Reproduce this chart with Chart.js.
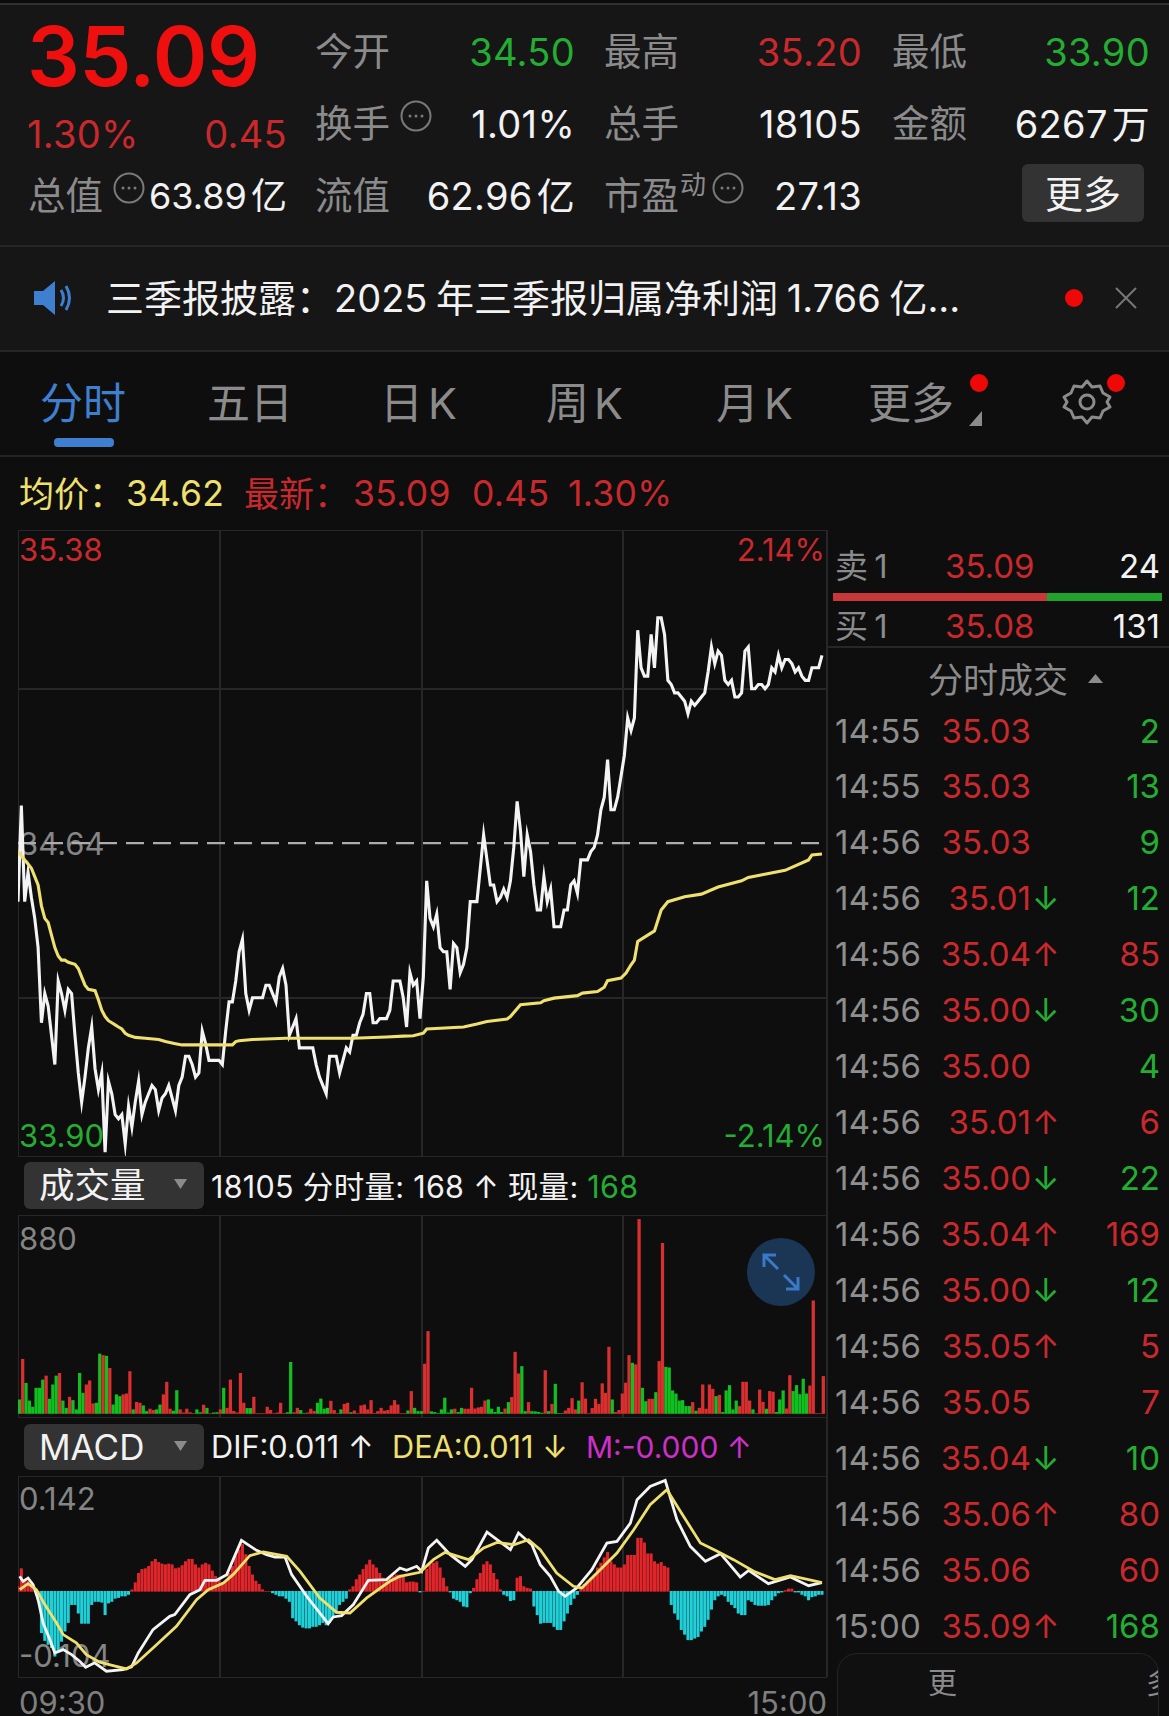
<!DOCTYPE html>
<html lang="zh"><head><meta charset="utf-8">
<script src="https://cdn.jsdelivr.net/npm/chart.js@4/dist/chart.umd.min.js"></script>
<style>
html,body{margin:0;padding:0;background:#0e0e0f;overflow:hidden}
#app{position:relative;width:1169px;height:1716px;background:#0e0e0f;font-family:Inter,"Noto Sans CJK SC",sans-serif;overflow:hidden}
.t{position:absolute;white-space:pre;line-height:1;transform:translateY(-50%)}
.b{position:absolute;box-sizing:border-box}
canvas{position:absolute;display:block}
svg{position:absolute;overflow:visible}
</style></head><body><div id="app"></div>
<script>
// ---------- data ----------
const priceValues=[34.50,34.73,34.50,34.57,34.51,34.46,34.39,34.21,34.28,34.25,
34.18,34.11,34.31,34.28,34.24,34.29,34.28,34.18,34.09,34.02,
34.08,34.15,34.20,34.10,34.05,34.09,33.90,34.07,34.04,33.99,
33.98,33.99,33.92,34.01,33.96,34.02,34.07,33.99,34.02,34.04,
34.06,34.05,34.00,34.03,34.04,34.06,34.03,34.00,34.06,34.08,
34.13,34.13,34.11,34.08,34.09,34.19,34.16,34.12,34.12,34.12,
34.12,34.11,34.19,34.26,34.26,34.31,34.38,34.41,34.28,34.24,
34.27,34.27,34.27,34.27,34.30,34.30,34.28,34.26,34.32,34.34,
34.30,34.18,34.20,34.22,34.15,34.15,34.15,34.15,34.15,34.11,
34.08,34.06,34.04,34.13,34.13,34.13,34.09,34.12,34.15,34.14,
34.18,34.18,34.21,34.23,34.28,34.28,34.21,34.21,34.22,34.22,
34.22,34.24,34.31,34.31,34.31,34.27,34.20,34.33,34.30,34.31,
34.22,34.32,34.55,34.46,34.44,34.47,34.39,34.38,34.38,34.29,
34.40,34.39,34.33,34.35,34.39,34.50,34.50,34.50,34.58,34.66,
34.60,34.54,34.54,34.50,34.51,34.53,34.51,34.55,34.63,34.74,
34.67,34.56,34.66,34.62,34.54,34.48,34.48,34.56,34.50,34.53,
34.44,34.44,34.44,34.48,34.48,34.54,34.55,34.52,34.60,34.60,
34.60,34.62,34.63,34.66,34.72,34.75,34.84,34.72,34.72,34.75,
34.80,34.85,34.94,34.91,34.94,35.15,35.06,35.04,35.04,35.14,
35.06,35.18,35.18,35.14,35.03,35.02,35.00,35.00,34.99,34.98,
34.95,34.98,34.97,34.98,34.99,35.00,35.05,35.11,35.07,35.10,
35.09,35.03,35.02,35.03,34.99,34.99,35.00,35.10,35.11,35.01,
35.01,35.02,35.02,35.01,35.02,35.06,35.05,35.09,35.06,35.08,
35.08,35.07,35.05,35.06,35.04,35.03,35.03,35.06,35.06,35.06,35.09];
const avgMinutes=[0,2,3,4,5,6,7,8,9,10,11,12,13,14,15,17,18,19,20,21,23,24,25,26,27,28,29,30,31,32,33,35,38,42,44,47,49,60,64,65,66,70,80,90,100,110,115,118,121,122,133,137,140,146,147,150,156,157,160,167,168.5,173,175,176,180,181.5,183,184,185,190,192,194,199,204,209,216,218,229,236,237,240];
const avgValues=[34.62,34.60,34.59,34.58,34.56,34.54,34.49,34.46,34.45,34.42,34.39,34.37,34.36,34.36,34.355,34.35,34.34,34.32,34.30,34.29,34.287,34.265,34.24,34.225,34.215,34.21,34.205,34.20,34.195,34.185,34.18,34.175,34.173,34.17,34.165,34.16,34.157,34.157,34.157,34.165,34.167,34.17,34.173,34.173,34.173,34.176,34.178,34.179,34.185,34.195,34.20,34.207,34.213,34.219,34.225,34.253,34.258,34.263,34.269,34.275,34.281,34.285,34.295,34.311,34.317,34.329,34.349,34.36,34.405,34.43,34.48,34.50,34.512,34.518,34.535,34.55,34.558,34.575,34.60,34.612,34.614];
const prevClose=34.64;
const priceGridLevels=[34.27,34.64,35.01];
const timeGridMinutes=[60.25,120.5,180.6];
const volumeValues=[62,246,137,57,29,115,115,152,170,65,130,170,182,57,24,74,59,17,182,92,
130,148,44,47,270,263,260,205,39,85,77,85,89,190,17,51,47,35,9,20,
14,17,39,85,142,20,11,104,17,3,20,4,0,17,4,38,24,0,3,4,
17,115,24,152,10,3,182,47,23,23,74,0,0,0,29,14,0,3,47,0,
4,232,4,24,14,0,3,20,10,47,66,20,24,56,14,0,17,42,47,4,
12,0,35,39,17,59,0,9,24,11,14,35,59,39,0,0,12,100,24,9,
9,224,372,8,5,0,17,70,3,17,20,5,24,20,20,115,21,26,29,57,
62,20,5,29,5,21,50,73,278,180,213,9,50,9,8,5,2,195,9,42,
133,0,0,12,24,68,17,57,140,66,0,23,65,41,135,92,301,62,5,14,
89,138,263,228,221,880,115,54,65,65,95,236,772,210,207,103,89,57,59,32,
32,50,11,24,130,20,130,110,77,83,5,103,127,17,57,32,142,142,57,17,
0,107,51,20,100,97,5,62,103,21,172,100,127,86,156,89,125,511,0,0,168];
const volumeSides=("grggggggrg"+"ggrggrgggg"+"rrrggrgrgg"+"grrrgrrggr"+"rggrrrggrr"+"rrrggrgrgg"+"rgrrrrrrgg"+"rrrrrrrrrr"+"ggrrggrrrg"+"gggrrrgrrg"+"rrrrrrrrrr"+"rrrrrrgrgg"+"grrggggggg"+"rggrrrrrrr"+"gggggrgrrr"+"ggrggggrgr"+"gggrrrrgrr"+"rrrrrrrgrr"+"rrrgrrggrr"+"grrggggggg"+"grgrrrrrgr"+"gggggrrrrg"+"rrrgrrgggr"+"rgggggrrrr"+"r").split("");
const difMinutes=[0.5,1.5,3,4.5,6,7.5,9.5,11,13.5,16,18.4,20.2,22.9,26.4,31.4,33.9,35.9,40.3,45.3,46.8,51.3,54.3,55.8,59.3,62.3,66.7,71.2,74.2,76.7,79.7,81.7,86.2,92.6,94.1,96.6,100.1,104.6,110,114,116,119,120.5,122.5,125,129,133.5,135.5,140,143,147,149.4,153.4,155.9,158.9,161.4,163.3,166.8,171.3,175.8,178.8,182.8,184.8,188.7,193.2,196.7,200.7,205.2,209.7,215.6,218.1,224,230.6,236,240];
const difValues=[.0192,.0128,.017,.0085,-.0106,-.0405,-.0618,-.0788,-.0746,-.081,-.0895,-.0971,-.0915,-.1022,-.1001,-.0967,-.0788,-.049,-.032,-.0298,-.0043,.0021,.0141,.0141,.0213,.0652,.0524,.0469,.0439,.0439,.0213,-.0064,-.0413,-.0328,-.0311,-.017,.0141,.0149,.0298,.0268,.032,.0256,.0554,.0652,.0469,.032,.0405,.0758,.066,.0533,.0746,.0596,.0341,.0192,0,-.0064,.0043,.0277,.0618,.0639,.0873,.1172,.1342,.1419,.0916,.0575,.0383,.0481,.0183,.0268,.0098,.0183,.0072,.011];
const deaMinutes=[0.5,3,5.5,8,11.5,13.5,17.4,20.4,24.4,28.4,32.4,35.4,40.3,47.3,53.3,56.8,61.3,64.2,69.2,73.2,80.2,84.2,90.1,95.1,99.1,104.1,111,114,120,124,127.5,134.5,139,143,148,152.4,155.9,160.8,165.8,168.3,173.8,178.8,183.8,188.7,193.7,198.7,203.7,208.7,213.6,219.6,226,230.6,236,240];
const deaValues=[.0021,.0098,.0021,-.017,-.0405,-.0554,-.066,-.081,-.0907,-.095,-.0993,-.0916,-.0724,-.0447,-.0107,.0021,.0107,.0213,.0456,.0503,.0447,.0256,-.0085,-.0268,-.0277,-.0085,.0128,.0192,.0243,.0405,.0498,.0405,.0554,.0626,.0596,.066,.0533,.0234,.0064,.0043,.0277,.049,.0788,.1108,.1299,.0958,.0618,.0511,.0405,.0256,.0149,.02,.0149,.011];
const macdValues=[.006,.029,.015,.013,.009,0,-.011,-.053,-.063,-.068,-.072,-.083,-.075,-.064,-.051,-.040,-.017,-.017,-.028,-.041,
-.041,-.041,-.017,-.013,-.013,-.014,-.030,-.015,-.013,-.009,-.008,-.006,-.006,-.004,.002,.011,.023,.028,.029,.032,
.038,.041,.037,.035,.034,.035,.034,.029,.030,.033,.038,.041,.041,.034,.030,.034,.036,.034,.026,.019,
.015,.011,.013,.023,.032,.045,.053,.060,.047,.032,.021,.013,.009,.002,0,0,-.002,-.004,-.006,-.006,
-.009,-.013,-.034,-.038,-.043,-.046,-.047,-.047,-.045,-.045,-.043,-.040,-.043,-.040,-.034,-.028,-.017,-.013,-.009,.002,
.006,.015,.021,.028,.034,.040,.034,.030,.023,.017,.015,.017,.019,.021,.021,.019,.011,.012,.012,.011,
-.001,0,.028,.034,.036,.038,.030,.017,.006,-.001,-.009,-.011,-.013,-.019,-.020,-.002,.004,.015,.023,.034,
.038,.034,.023,.015,.002,-.004,-.006,-.012,-.011,.017,.019,.006,.004,.003,-.019,-.030,-.041,-.040,-.040,-.040,
-.045,-.049,-.049,-.038,-.028,-.017,-.009,-.004,.004,.009,.013,.017,.021,.030,.036,.043,.050,.038,.034,.030,
.030,.034,.046,.046,.046,.068,.068,.062,.048,.048,.038,.035,.037,.032,.030,-.017,-.028,-.036,-.049,-.055,
-.062,-.062,-.060,-.058,-.051,-.045,-.036,-.023,-.011,-.006,-.004,-.006,-.013,-.017,-.021,-.028,-.030,-.030,-.011,-.013,
-.017,-.018,-.018,-.018,-.017,-.011,-.006,-.002,-.001,.001,.003,.003,-.001,-.001,-.004,-.006,-.011,-.007,-.006,-.004,-.004];
const tradeTimes=["14:55","14:55","14:56","14:56","14:56","14:56","14:56","14:56","14:56","14:56","14:56","14:56","14:56","14:56","14:56","14:56","15:00"];
const tradePrices=["35.03","35.03","35.03","35.01","35.04","35.00","35.00","35.01","35.00","35.04","35.00","35.05","35.05","35.04","35.06","35.06","35.09"];
const tradeMoves=["","","","↓","↑","↓","","↑","↓","↑","↓","↑","","↓","↑","","↑"];
const tradeQty=["2","13","9","12","85","30","4","6","22","169","12","5","7","10","80","60","168"];
const tradeSide=["g","g","g","g","r","g","g","r","g","r","g","r","r","g","r","r","g"];

// ---------- page helpers ----------
const app=document.getElementById("app");
const RED="#c9292c",BRIGHT="#ee0f0f",GREEN="#24ad33",GREY="#8b8b8b",WHITE="#f2f2f2",YEL="#efe070",BLUE="#3f7fd0";
function t(s,x,cy,size,color,align,extra){
  const d=document.createElement("div");d.className="t";d.textContent=s;
  d.style.top=cy+"px";d.style.fontSize=size+"px";d.style.color=color;
  if(align==="r"){d.style.right=(1169-x)+"px"}else if(align==="c"){d.style.left=x+"px";d.style.transform="translate(-50%,-50%)"}else{d.style.left=x+"px"}
  if(extra)Object.assign(d.style,extra);app.appendChild(d);return d;
}
function box(x,y,w,h,css){const d=document.createElement("div");d.className="b";
  Object.assign(d.style,{left:x+"px",top:y+"px",width:w+"px",height:h+"px"},css);app.appendChild(d);return d;}
function svg(x,y,w,h,inner){const d=document.createElement("div");d.style.position="absolute";d.style.left=x+"px";d.style.top=y+"px";
  d.innerHTML=`<svg width="${w}" height="${h}" viewBox="0 0 ${w} ${h}" style="left:0;top:0">${inner}</svg>`;app.appendChild(d);}
function more(cx,cy){svg(cx-16,cy-16,32,32,`<circle cx="16" cy="16" r="14.5" fill="none" stroke="#7a7a7a" stroke-width="2"/><circle cx="10" cy="16" r="1.5" fill="#7a7a7a"/><circle cx="16" cy="16" r="1.5" fill="#7a7a7a"/><circle cx="22" cy="16" r="1.5" fill="#7a7a7a"/>`);}
function dot(cx,cy,r,c){box(cx-r,cy-r,r*2,r*2,{background:c||"#ee0808",borderRadius:"50%"});}
function tri(cx,cy,w,h,c,up){svg(cx-w/2,cy-h/2,w,h,`<path d="${up?`M${w/2} 0L${w} ${h}L0 ${h}Z`:`M0 0L${w} 0L${w/2} ${h}Z`}" fill="${c}"/>`);}

// header band
box(0,0,1169,350,{background:"#161617"});
box(0,0,1169,3,{background:"#0c0c0c"});
box(0,3,1169,2,{background:"#303030"});
box(0,245,1169,2,{background:"#262627"});
box(0,350,1169,2,{background:"#262627"});
box(0,455,1169,2,{background:"#232324"});
t("35.09",27,56,83,BRIGHT,"l",{fontWeight:600,letterSpacing:"-0.5px"});
const NUM={letterSpacing:"0.3px"};
const YI={letterSpacing:"0.3px",wordSpacing:"-7px"};
t("1.30%",27,134,38,RED,"l",NUM);t("0.45",287,134,38,RED,"r",NUM);
const LBL=37.5,VAL=38;
t("今开",315,52,LBL,GREY);t("34.50",575,52,VAL,GREEN,"r",NUM);
t("最高",604,52,LBL,GREY);t("35.20",862,52,VAL,RED,"r",NUM);
t("最低",892,52,LBL,GREY);t("33.90",1150,52,VAL,GREEN,"r",NUM);
t("换手",315,124,LBL,GREY);more(416,116);t("1.01%",575,124,VAL,WHITE,"r",NUM);
t("总手",604,124,LBL,GREY);t("18105",862,124,VAL,WHITE,"r",NUM);
t("金额",892,124,LBL,GREY);t("6267 万",1150,124,VAL,WHITE,"r",YI);
t("总值",28,196,LBL,GREY);more(129,188);t("63.89 亿",287,196,36,WHITE,"r",{wordSpacing:"-6px"});
t("流值",315,196,LBL,GREY);t("62.96 亿",575,196,VAL,WHITE,"r",YI);
t("市盈",604,196,LBL,GREY);t("动",680,185,26,GREY);more(728,188);t("27.13",862,196,VAL,WHITE,"r",NUM);
box(1022,164,122,58,{background:"#333334",borderRadius:"6px"});t("更多",1083,194,38,WHITE,"c");
// banner
svg(32,278,44,40,`<path d="M2 13h9L23 3v34L11 27H2z" fill="${BLUE}"/><path d="M29 12q5 8 0 16M34 8q7 12 0 24" fill="none" stroke="${BLUE}" stroke-width="3"/>`);
t("三季报披露：2025 年三季报归属净利润 1.766 亿...",106,298,38,WHITE,"l",{wordSpacing:"-2px"});
dot(1074,298,9);
svg(1115,287,22,22,`<path d="M1 1L21 21M21 1L1 21" stroke="#777" stroke-width="2"/>`);
// tabs
[["分时",40,BLUE],["五日",207,GREY],["日 K",380,GREY],["周 K",546,GREY],["月 K",716,GREY],["更多",868,GREY]].forEach(a=>t(a[0],a[1],403,43,a[2],"l",{wordSpacing:"-7px"}));
box(54,438,60,9,{background:BLUE,borderRadius:"4px"});
dot(979,383,9);
svg(969,411,13,15,`<path d="M13 0V15H0z" fill="#8b8b8b"/>`);
svg(1063,378,48,48,`<path d="M24 3l5 6 8-1 3 7 7 4-3 5 3 5-7 4-3 7-8-1-5 6-5-6-8 1-3-7-7-4 3-5-3-5 7-4 3-7 8 1z" fill="none" stroke="#8b8b8b" stroke-width="3" stroke-linejoin="round"/><circle cx="24" cy="24" r="7" fill="none" stroke="#8b8b8b" stroke-width="3"/>`);
dot(1116,383,9);
// info row
t("均价：",19,494,35,YEL);t("34.62",126,494,35.5,YEL,"l",NUM);
t("最新：",244,494,35,RED);t("35.09",353,494,35.5,RED,"l",NUM);t("0.45",472,494,35.5,RED,"l",NUM);t("1.30%",568,494,35.5,RED,"l",NUM);

// panel frames
const PL=18,PR=826,LINE="#272728";
[[530,1156],[1215,1417],[1476,1677]].forEach(p=>box(PL,p[0],PR-PL+1,p[1]-p[0]+1,{border:"1.5px solid "+LINE}));
box(826,530,1.5,1147,{background:LINE});
// panel labels (under the canvases)
t("35.38",19,549,31,RED);t("2.14%",825,549,31,RED,"r");
t("34.64",19,843,31,"#858585");
t("33.90",19,1135,31,GREEN);t("-2.14%",825,1135,31,GREEN,"r");
t("880",19,1238,31,"#858585");
t("0.142",19,1498,31,"#858585");t("-0.104",19,1655,31,"#858585");
t("09:30",19,1702,31,"#7f7f7f");t("15:00",827,1702,31,"#7f7f7f","r");
// sub rows
box(24,1162,180,47,{background:"#333334",borderRadius:"6px"});t("成交量",39,1186,35.5,WHITE);tri(180,1184,13,10,"#8b8b8b");
const sub=t("",211,1187,30.5,WHITE,"l",{letterSpacing:"0.3px"});sub.innerHTML='18105 分时量: 168 ↑ 现量: <span style="color:#24ad33">168</span>';
box(24,1424,180,46,{background:"#333334",borderRadius:"6px"});t("MACD",39,1447,35,WHITE);tri(180,1446,13,10,"#8b8b8b");
t("DIF:0.011 ↑",211,1447,30.7,WHITE);t("DEA:0.011 ↓",392,1447,30.7,YEL);t("M:-0.000 ↑",586,1447,30,"#cf2fc9");
// expand button
dot(781,1272,34,"#1b3554");
svg(763,1254,36,36,`<path d="M1 13V1H13M2 2L15 15M35 23V35H23M34 34L21 21" fill="none" stroke="#3a78c8" stroke-width="3"/>`);
// right column
const TR={letterSpacing:"0.3px"};
t("卖 1",835,565.5,33,GREY,"l",{wordSpacing:"-3px"});t("35.09",945,565.5,33,RED);t("24",1160,565.5,33,WHITE,"r");
box(833,593,214,8,{background:"#c8383a"});box(1047,593,115,8,{background:"#1fa32c"});
t("买 1",835,625.5,33,GREY,"l",{wordSpacing:"-3px"});t("35.08",945,625.5,33,RED);t("131",1160,625.5,33,WHITE,"r");
box(826,646,343,2,{background:LINE});
t("分时成交",928,680,35,GREY);tri(1095,678,15,9,"#8b8b8b",true);
tradeTimes.forEach((tm,i)=>{const cy=730.5+i*55.97;
  t(tm,835,cy,33,"#8e8e8e","l",TR);t(tradePrices[i],1031,cy,33,RED,"r");
  const c=tradeSide[i]==="r"?RED:GREEN;
  if(tradeMoves[i])t(tradeMoves[i],1032,cy,33,tradeMoves[i]==="↑"?RED:GREEN);
  t(tradeQty[i],1160,cy,33,c,"r");});
box(837,1653,322,80,{border:"1.5px solid #242425",borderRadius:"20px",background:"#101011"});
t("更",928,1683,29,"#8b8b8b");
t("多",1146,1683,29,"#8b8b8b","l",{width:"12px",overflow:"hidden"});

// ---------- charts ----------
const MINX=0,MAXX=241.2;
function mk(top,h,config){
  const c=document.createElement("canvas");c.width=808;c.height=h;
  c.style.cssText=`left:18.3px;top:${top}px;width:808px;height:${h}px`;
  app.appendChild(c);
  return new Chart(c,config);
}
function xAxis(){return {type:"linear",min:MINX,max:MAXX,offset:false,display:true,
  afterBuildTicks:s=>{s.ticks=timeGridMinutes.map(v=>({value:v}))},
  ticks:{display:false},border:{display:false},
  grid:{color:"#272728",lineWidth:2,drawTicks:false,drawOnChartArea:true,offset:false}};}
const base={responsive:false,animation:false,maintainAspectRatio:false,events:[],
  layout:{padding:0},plugins:{legend:{display:false},tooltip:{enabled:false},title:{display:false}}};
const zip=(xs,ys)=>xs.map((x,i)=>({x,y:ys[i]}));
const idx=a=>a.map((y,i)=>({x:i,y}));
const lineDs=(data,color,w,extra)=>Object.assign({type:"line",data,borderColor:color,borderWidth:w,pointRadius:0,tension:0,fill:false,borderJoinStyle:"miter"},extra||{});

mk(530,626,{type:"line",data:{datasets:[
  lineDs(zip(avgMinutes,avgValues),YEL,3.1),
  lineDs(idx(priceValues),"#f4f4f4",3.1),
  lineDs([{x:0,y:prevClose},{x:239.5,y:prevClose}],"#adadad",2.2,{borderDash:[18,9]}),
]},options:Object.assign({},base,{scales:{x:xAxis(),
  y:{type:"linear",min:33.891,max:35.39,display:true,
     afterBuildTicks:s=>{s.ticks=priceGridLevels.map(v=>({value:v}))},
     ticks:{display:false},border:{display:false},
     grid:{drawTicks:false,lineWidth:c=>c.tick&&c.tick.value===prevClose?0:2,color:"#272728"}}}})});

mk(1215,202,{type:"bar",data:{datasets:[{data:volumeValues.map((y,i)=>({x:i+0.4,y})),
  backgroundColor:volumeSides.map(s=>s==="r"?"#d9302f":"#12bf20"),barThickness:2.6,borderWidth:0}]},
  options:Object.assign({},base,{scales:{x:xAxis(),
    y:{type:"linear",min:-16,max:900,display:false}}})});

mk(1476,201,{type:"bar",data:{datasets:[
  lineDs(zip(difMinutes,difValues),"#f4f4f4",2.8,{order:1}),
  lineDs(zip(deaMinutes,deaValues),YEL,2.8,{order:0}),
  {type:"bar",data:idx(macdValues),order:2,backgroundColor:macdValues.map(v=>v>=0?"#e0262a":"#1fd0d8"),barThickness:2.4,borderWidth:0},
]},options:Object.assign({},base,{scales:{x:xAxis(),
  y:{type:"linear",min:-.1096,max:.1475,display:false}}})});
</script></body></html>
